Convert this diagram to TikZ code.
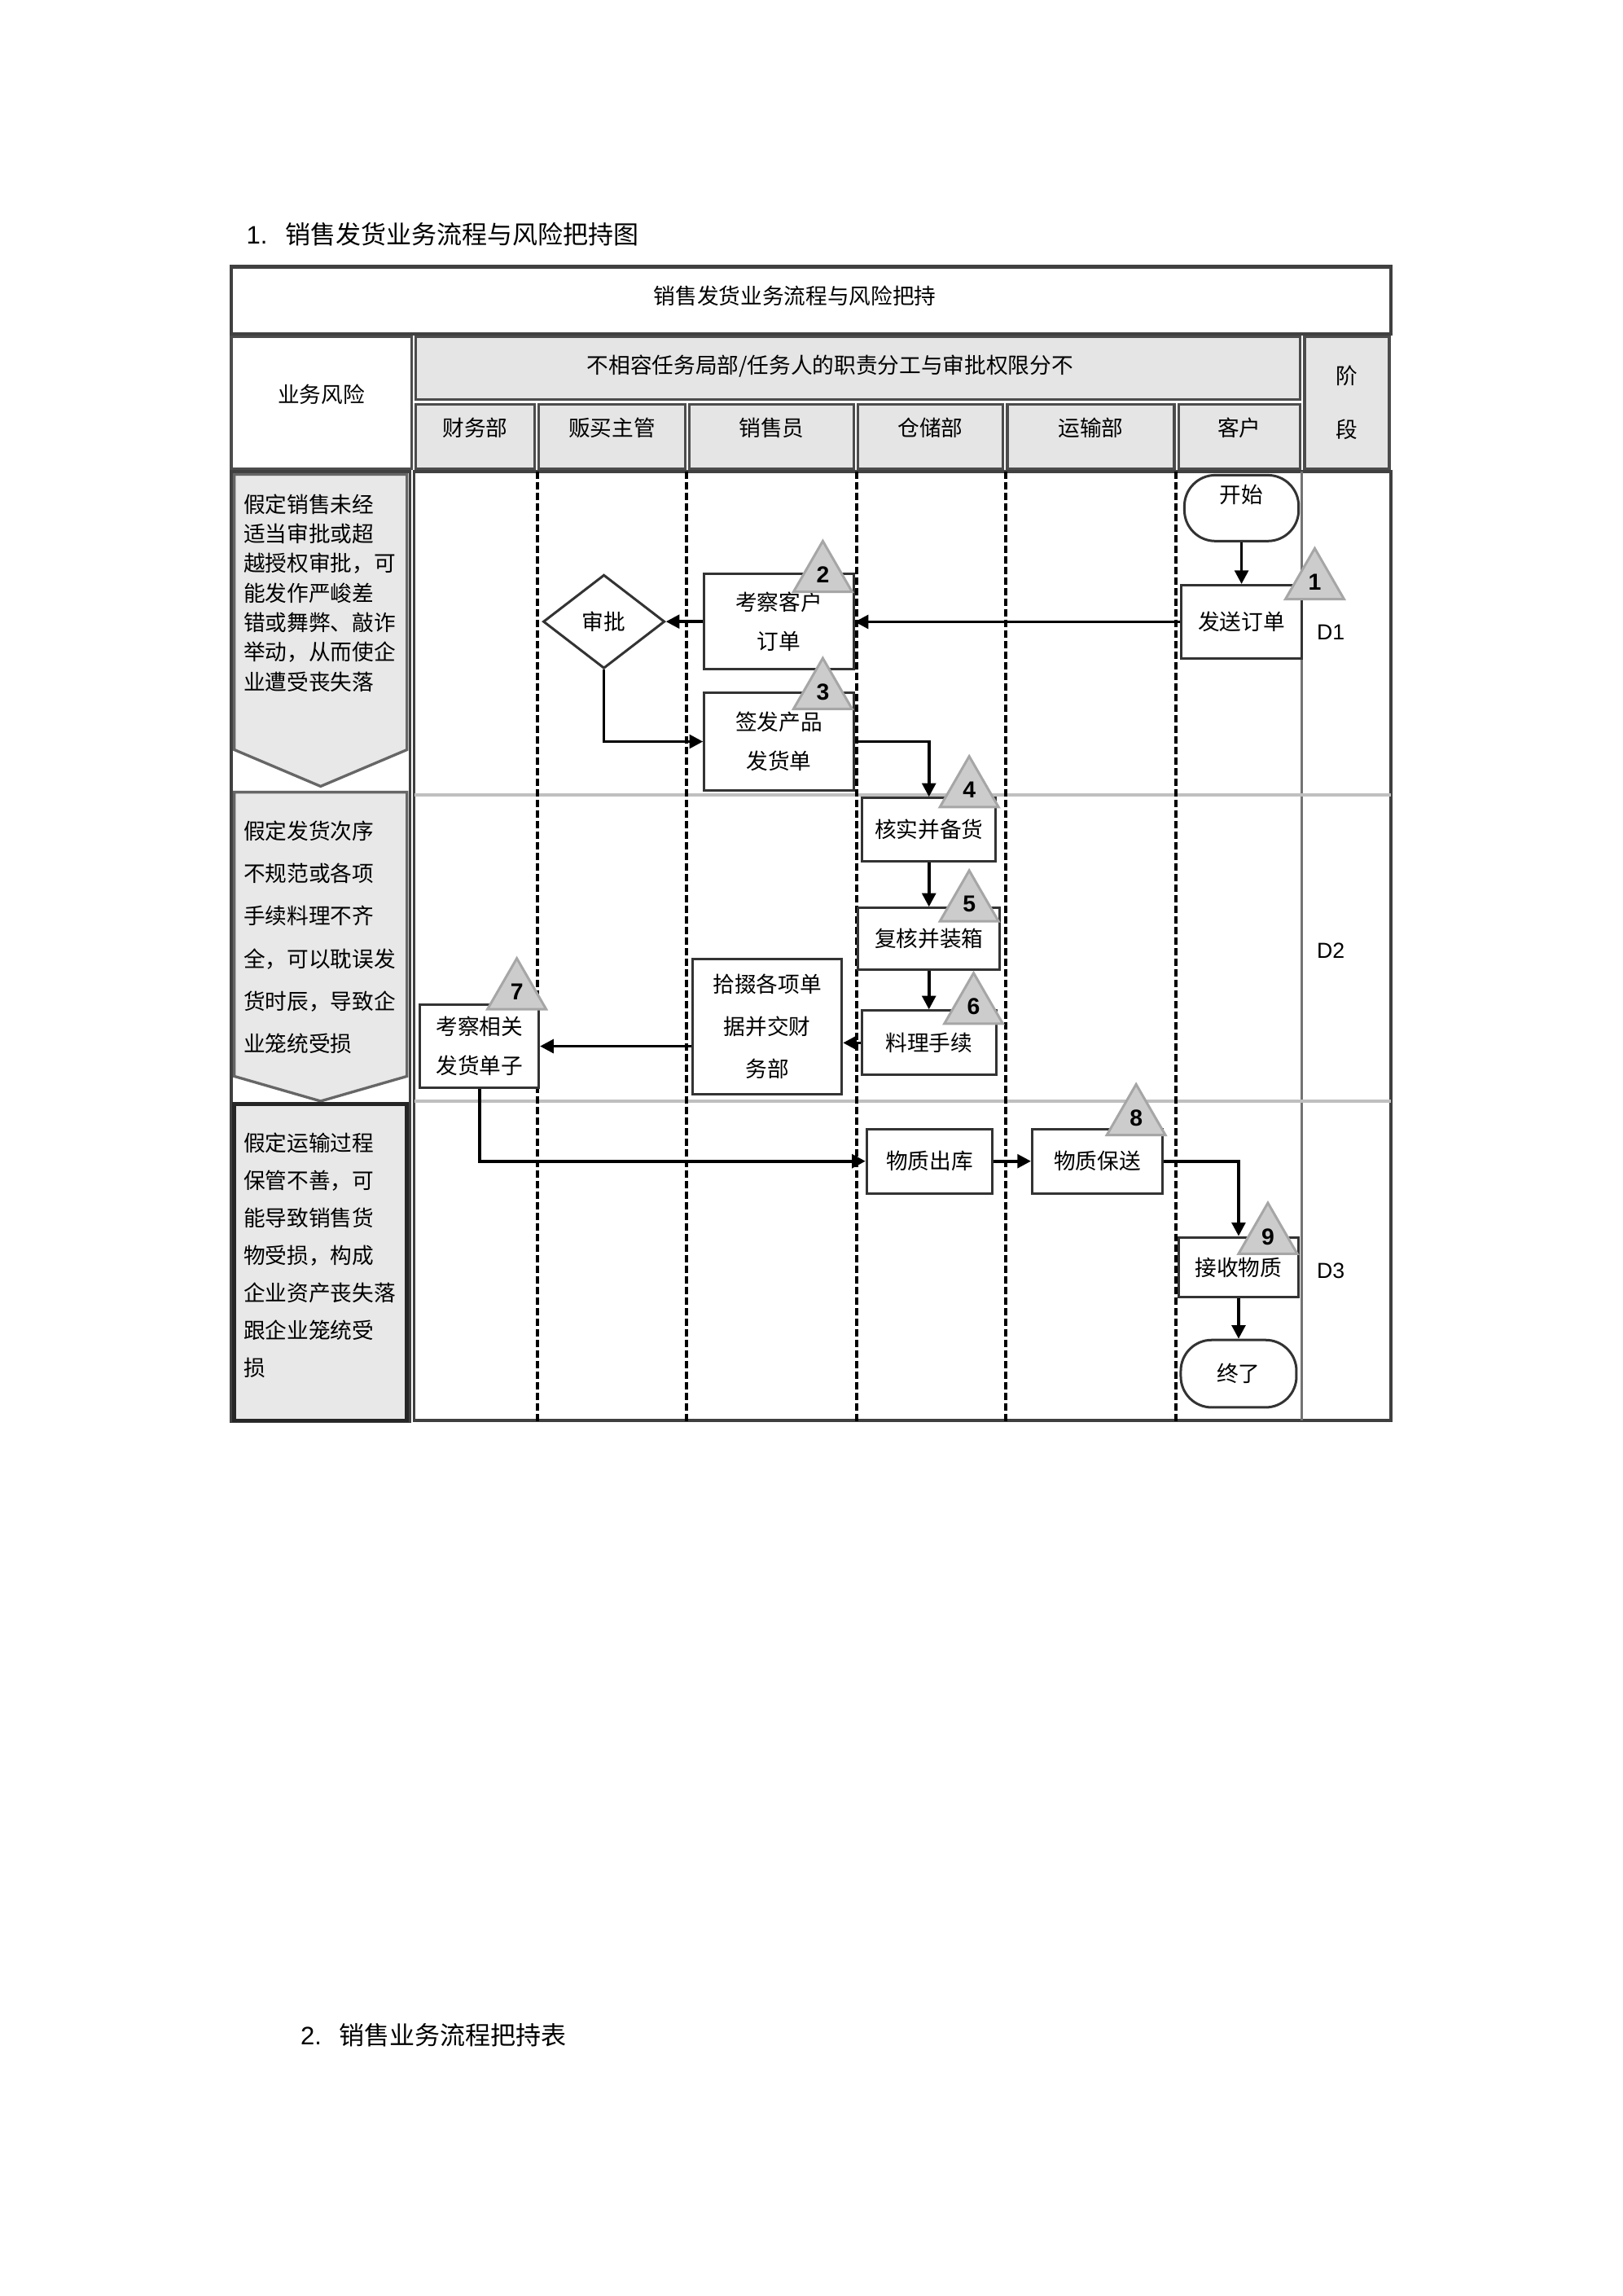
\documentclass[tikz,border=0pt]{standalone}
\usepackage{fontspec}
\setmainfont{Noto Sans CJK SC}
\newfontfamily\numfont{Liberation Sans}
\usepackage{tikz}
\usetikzlibrary{arrows.meta, positioning, shapes.geometric}

\begin{document}
\begin{tikzpicture}[
      x=0.018955cm, y=-0.018955cm,
      frame/.style={draw=black!75, line width=1pt},
      lanedash/.style={draw=black, line width=1.2pt, dash pattern=on 2.6pt off 1.3pt},
      stageline/.style={draw=black!25, line width=1.3pt},
      headcell/.style={
          draw=black!70,
          line width=1pt,
          fill=black!10,
          inner sep=0pt,
          font=\fontsize{8}{10}\selectfont
      },
      flat/.style={text height=0pt, text depth=0pt},
      riskshape/.style={draw=black!60, line width=1pt, fill=black!9},
      txt/.style={font=\fontsize{8}{10}\selectfont, inner sep=0pt},
      stepbox/.style={
          draw=black!80,
          line width=0.9pt,
          fill=white,
          align=center,
          inner sep=1pt,
          font=\fontsize{8}{14.5}\selectfont
      },
      termbox/.style={stepbox, rounded corners=0.4cm},
      decide/.style={diamond, draw=black!80, line width=0.9pt, fill=white,
          inner sep=0pt, font=\fontsize{8}{10}\selectfont},
      risktri/.style={
          regular polygon,
          regular polygon sides=3,
          draw=black!35,
          line width=0.9pt,
          fill=black!20,
          minimum size=0.876cm,
          inner sep=0pt,
          font=\numfont\bfseries\fontsize{8.5}{10}\selectfont
      },
      stage/.style={font=\numfont\fontsize{8}{10}\selectfont},
      arrow/.style={-{Triangle[length=5pt, width=5pt]}, line width=1.1pt}
  ]

  \useasboundingbox (0,0) rectangle (1108,1568);

  % ══════════════════════════════
  % TITRES
  % ══════════════════════════════
  \node[txt, anchor=west, font=\fontsize{9.3}{11}\selectfont] (title1) at (168,160)
      {{\numfont 1.}\hspace{0.7em}销售发货业务流程与风险把持图};

  \node[txt, anchor=west, font=\fontsize{9.3}{11}\selectfont] (title2) at (205,1390)
      {{\numfont 2.}\hspace{0.7em}销售业务流程把持表};

  % ══════════════════════════════
  % EN-TÊTE DU TABLEAU
  % ══════════════════════════════
  \draw[frame, line width=1.4pt] (158,182) rectangle (950,228);
  \node[txt] (maintitle) at (543,202) {销售发货业务流程与风险把持};

  \node[headcell, flat, fill=white, minimum width=2.331cm, minimum height=1.706cm]
      (riskhead) at (219.5,275) {业务风险};

  \draw[headcell] (284,230) rectangle (888,273);
  \node[txt] (duty) at (567,250) {不相容任务局部/任务人的职责分工与审批权限分不};

  \node[headcell, flat, minimum width=1.535cm, minimum height=0.834cm] (finance) at (324.5,298) {财务部};
  \node[headcell, flat, minimum width=1.896cm, minimum height=0.834cm] (buyer) at (418,298) {贩买主管};
  \node[headcell, flat, minimum width=2.123cm, minimum height=0.834cm] (seller) at (527,298) {销售员};
  \node[headcell, flat, minimum width=1.877cm, minimum height=0.834cm] (store) at (635.5,298) {仓储部};
  \node[headcell, flat, minimum width=2.161cm, minimum height=0.834cm] (transport) at (745,298) {运输部};
  \node[headcell, flat, minimum width=1.573cm, minimum height=0.834cm] (client) at (846.5,298) {客户};

  \node[headcell, minimum width=1.099cm, minimum height=1.706cm, align=center,
        font=\fontsize{8}{20}\selectfont] (phase) at (920,275) {阶\\段};

  % ══════════════════════════════
  % COULOIRS
  % ══════════════════════════════
  \draw[frame] (283,322) rectangle (950,970);
  \draw[frame, draw=black!55] (889,322) -- (889,970);
  \draw[stageline] (283,543) -- (950,543);
  \draw[stageline] (283,752) -- (950,752);

  \draw[lanedash] (367,322) -- (367,972);
  \draw[lanedash] (469,322) -- (469,972);
  \draw[lanedash] (585,322) -- (585,972);
  \draw[lanedash] (687,322) -- (687,972);
  \draw[lanedash] (803,322) -- (803,972);

  % ══════════════════════════════
  % COLONNE DES RISQUES
  % ══════════════════════════════
  \draw[frame] (158,322) rectangle (280,971);

  \draw[riskshape] (160,324) -- (278,324) -- (278,512) -- (219,537) -- (160,512) -- cycle;
  \draw[riskshape] (160,541) -- (278,541) -- (278,735) -- (219,752) -- (160,735) -- cycle;
  \draw[riskshape, draw=black!85, line width=1.4pt] (160,754) rectangle (278,970);

  \node[txt, anchor=north west, align=left, font=\fontsize{8}{10.9}\selectfont] (risk1) at (166,337)
      {假定销售未经\\适当审批或超\\越授权审批，可\\能发作严峻差\\错或舞弊、敲诈\\举动，从而使企\\业遭受丧失落};

  \node[txt, anchor=north west, align=left, font=\fontsize{8}{15.7}\selectfont] (risk2) at (166,560)
      {假定发货次序\\不规范或各项\\手续料理不齐\\全，可以耽误发\\货时辰，导致企\\业笼统受损};

  \node[txt, anchor=north west, align=left, font=\fontsize{8}{13.8}\selectfont] (risk3) at (166,773)
      {假定运输过程\\保管不善，可\\能导致销售货\\物受损，构成\\企业资产丧失落\\跟企业笼统受\\损};

  % ══════════════════════════════
  % PHASES
  % ══════════════════════════════
  \node[stage] (d1) at (909,432) {D1};
  \node[stage] (d2) at (909,649) {D2};
  \node[stage] (d3) at (909,868) {D3};

  % ══════════════════════════════
  % ÉTAPES
  % ══════════════════════════════
  \node[termbox, minimum width=1.479cm, minimum height=0.853cm] (start)
      at (848,347) {\raisebox{0.065cm}[0pt][0pt]{开始}};

  \node[stepbox, minimum width=1.554cm, minimum height=0.948cm, below=0.54cm of start] (send)
      {发送订单};

  \node[stepbox, minimum width=1.933cm, minimum height=1.232cm] (cust)
      at (532,424.5) {考察客户\\订单};

  \node[decide, minimum width=1.573cm, minimum height=1.213cm] (approve)
      at (412.5,424.5) {审批};

  \node[stepbox, minimum width=1.933cm, minimum height=1.27cm, below=0.27cm of cust] (sign)
      {签发产品\\发货单};

  \node[stepbox, minimum width=1.725cm, minimum height=0.815cm] (check)
      at (634.5,566.5) {核实并备货};

  \node[stepbox, minimum width=1.839cm, minimum height=0.796cm, below=0.577cm of check] (recheck)
      {复核并装箱};

  \node[stepbox, minimum width=1.744cm, minimum height=0.834cm, below=0.50cm of recheck] (handle)
      {料理手续};

  \node[stepbox, minimum width=1.933cm, minimum height=1.744cm,
        font=\fontsize{8}{15.5}\selectfont] (collect)
      at (524,701) {拾掇各项单\\据并交财\\务部};

  \node[stepbox, minimum width=1.535cm, minimum height=1.08cm] (review)
      at (327.5,714.5) {考察相关\\发货单子};

  \node[stepbox, minimum width=1.630cm, minimum height=0.834cm] (out)
      at (635,793) {物质出库};

  \node[stepbox, minimum width=1.687cm, minimum height=0.834cm, right=0.48cm of out] (deliver)
      {物质保送};

  \node[stepbox, minimum width=1.554cm, minimum height=0.777cm] (receive)
      at (846,865.5) {接收物质};

  \node[termbox, minimum width=1.497cm, minimum height=0.872cm, below=0.52cm of receive] (finish)
      {终了};

  % ══════════════════════════════
  % FLÈCHES
  % ══════════════════════════════
  \draw[arrow] (start) -- (send);
  \draw[arrow] (send.west) -- (send.west -| cust.east);
  \draw[arrow] (cust) -- (approve);
  \draw[arrow] (approve.south) |- (sign.west);
  \draw[arrow] (sign.east) -| (check.north);
  \draw[arrow] (check) -- (recheck);
  \draw[arrow] (recheck) -- (handle);
  \draw[arrow] (handle.west) -- (handle.west -| collect.east);
  \draw[arrow] (review.east -| collect.west) -- (review.east);
  \draw[arrow] (review.south) |- (out.west);
  \draw[arrow] (out) -- (deliver);
  \draw[arrow] (deliver.east) -| (receive.north);
  \draw[arrow] (receive) -- (finish);

  % ══════════════════════════════
  % POINTS DE CONTRÔLE
  % ══════════════════════════════
  \node[risktri, anchor=side 2] (tri1) at (898,410) {1};
  \node[risktri, anchor=side 2] (tri2) at (562,405) {2};
  \node[risktri, anchor=side 2] (tri3) at (562,485) {3};
  \node[risktri, anchor=side 2] (tri4) at (662,552) {4};
  \node[risktri, anchor=side 2] (tri5) at (662,630) {5};
  \node[risktri, anchor=side 2] (tri6) at (665,700) {6};
  \node[risktri, anchor=side 2] (tri7) at (353,690) {7};
  \node[risktri, anchor=side 2] (tri8) at (776,776) {8};
  \node[risktri, anchor=side 2] (tri9) at (866,857) {9};

  \end{tikzpicture}
\end{document}
